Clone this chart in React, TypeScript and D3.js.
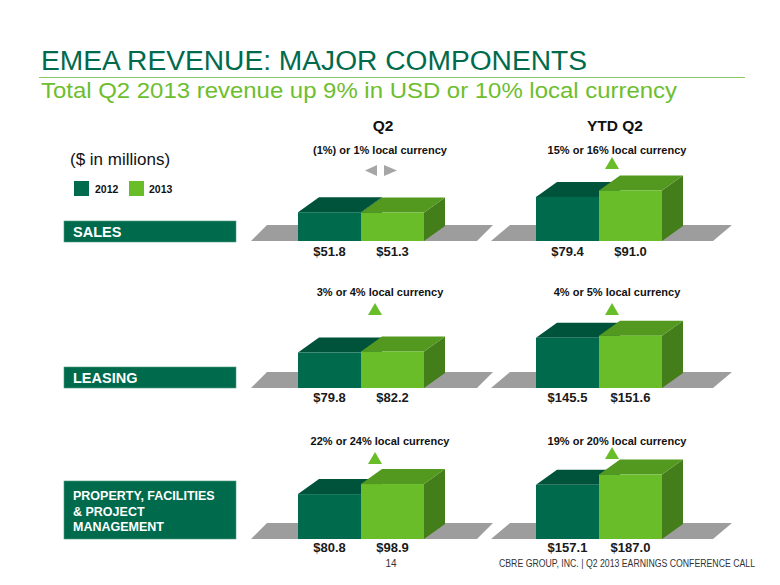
import React from "react";
import * as d3 from "d3";

// ---------- data ----------
const years = ["2012", "2013"];
const segments = ["SALES", "LEASING", "PROPERTY, FACILITIES\n& PROJECT\nMANAGEMENT"];
const q2Values2012 = [51.8, 79.8, 80.8];
const q2Values2013 = [51.3, 82.2, 98.9];
const ytdValues2012 = [79.4, 145.5, 157.1];
const ytdValues2013 = [91.0, 151.6, 187.0];
const q2Notes = ["(1%) or 1% local currency", "3% or 4% local currency", "22% or 24% local currency"];
const ytdNotes = ["15% or 16% local currency", "4% or 5% local currency", "19% or 20% local currency"];
const q2Direction = ["flat", "up", "up"];
const ytdDirection = ["up", "up", "up"];
// per-chart value-axis maxima (each small chart is scaled on its own)
const q2AxisMax = [180, 225, 180];
const ytdAxisMax = [180, 290, 290];

// ---------- layout ----------
const W = 780;
const H = 585;
const FONT = "'Liberation Sans', Arial, Helvetica, sans-serif";
const DARK = "#006A4D";
const DARK_TOP = "#00533B";
const LIGHT = "#69BD29";
const LIGHT_TOP = "#53981F";
const LIGHT_SIDE = "#437E1B";
const GROUND = "#9D9D9D";
const rowBase = [241, 388, 539];
const rowLabelOffset = [15, 13.5, 13];
const rowNoteY = [153.5, 296, 445];
const q2TriTop = [165, 303, 452];
const ytdTriTop = [157, 303, 447];
const boxTop = [221, 367, 481];
const boxH = [21, 21, 58];
const DX = 21;
const DY = 15;
const BAR_RANGE_H = 100;

type PanelCfg = {
  bandStart: number;
  groundLeft: number;
  groundRight: number;
  groundSkew: number;
  noteX: number;
  triX: number;
};
const q2Cfg: PanelCfg = { bandStart: 298, groundLeft: 251, groundRight: 477, groundSkew: 16, noteX: 380, triX: 375 };
const ytdCfg: PanelCfg = { bandStart: 536, groundLeft: 491, groundRight: 713, groundSkew: 19, noteX: 617, triX: 612 };

function Panel({
  cfg, base, labelOffset, v12, v13, max, note, dir, noteY, triTop,
}: {
  cfg: PanelCfg; base: number; labelOffset: number; v12: number; v13: number; max: number;
  note: string; dir: string; noteY: number; triTop: number;
}) {
  const x = d3.scaleBand<string>().domain(years).range([cfg.bandStart, cfg.bandStart + 126]).padding(0);
  const y = d3.scaleLinear().domain([0, max]).range([0, BAR_RANGE_H]);
  const w = x.bandwidth();
  const vals = [v12, v13];
  const gh = 16;
  const ground = [
    [cfg.groundLeft, base],
    [cfg.groundRight, base],
    [cfg.groundRight + cfg.groundSkew, base - gh],
    [cfg.groundLeft + cfg.groundSkew, base - gh],
  ];
  const poly = (pts: number[][]) => pts.map((p) => p.join(",")).join(" ");
  return (
    <g>
      <polygon points={poly(ground)} fill={GROUND} />
      {years.map((yr, i) => {
        const x0 = x(yr) as number;
        const h = y(vals[i]);
        const top = base - h;
        const front = i === 0 ? DARK : LIGHT;
        const topC = i === 0 ? DARK_TOP : LIGHT_TOP;
        const sideC = i === 0 ? "#004A33" : LIGHT_SIDE;
        return (
          <g key={yr}>
            <polygon
              points={poly([[x0 + w, top], [x0 + w + DX, top - DY], [x0 + w + DX, base - DY], [x0 + w, base]])}
              fill={sideC}
            />
            <polygon
              points={poly([[x0, top], [x0 + DX, top - DY], [x0 + w + DX, top - DY], [x0 + w, top]])}
              fill={topC}
            />
            <rect x={x0} y={top} width={w} height={h} fill={front} />
          </g>
        );
      })}
      {years.map((yr, i) => (
        <text
          key={"l" + yr}
          x={(x(yr) as number) + w / 2}
          y={base + labelOffset}
          textAnchor="middle"
          fontFamily={FONT}
          fontWeight="bold"
          fontSize={13}
          fill="#1a1a1a"
        >
          {"$" + d3.format(".1f")(vals[i])}
        </text>
      ))}
      <text x={cfg.noteX} y={noteY} textAnchor="middle" fontFamily={FONT} fontWeight="bold" fontSize={11} fill="#111">
        {note}
      </text>
      {dir === "up" ? (
        <polygon
          points={poly([[cfg.triX - 7, triTop + 12], [cfg.triX + 7, triTop + 12], [cfg.triX, triTop]])}
          fill={LIGHT}
        />
      ) : (
        <g fill="#A6A6A6">
          <polygon points={poly([[cfg.triX - 10, triTop + 5.5], [cfg.triX + 2, triTop], [cfg.triX + 2, triTop + 11]])} />
          <polygon points={poly([[cfg.triX + 9, triTop], [cfg.triX + 22, triTop + 5.5], [cfg.triX + 9, triTop + 11]])} />
        </g>
      )}
    </g>
  );
}

export default function App() {
  return (
    <svg
      width={W}
      height={H}
      viewBox={`0 0 ${W} ${H}`}
      style={{ position: "absolute", left: 0, top: 0, background: "#fff" }}
    >
      <rect width={W} height={H} fill="#fff" />
      <text x={41} y={70} fontFamily={FONT} fontSize={27} fill={DARK} textLength={546} lengthAdjust="spacingAndGlyphs">
        EMEA REVENUE: MAJOR COMPONENTS
      </text>
      <line x1={39} x2={745} y1={77.5} y2={77.5} stroke="#8CC867" strokeWidth={1} />
      <text x={41} y={98} fontFamily={FONT} fontSize={22} fill="#6DBE2E" textLength={636} lengthAdjust="spacingAndGlyphs">
        Total Q2 2013 revenue up 9% in USD or 10% local currency
      </text>

      <text x={383} y={131} textAnchor="middle" fontFamily={FONT} fontWeight="bold" fontSize={15.5} fill="#111">Q2</text>
      <text x={615} y={131} textAnchor="middle" fontFamily={FONT} fontWeight="bold" fontSize={15.5} fill="#111">YTD Q2</text>

      <text x={70} y={165} fontFamily={FONT} fontSize={17} fill="#111">($ in millions)</text>
      {years.map((yr, i) => (
        <g key={yr}>
          <rect x={74 + i * 55} y={181} width={15} height={15} fill={i === 0 ? DARK : LIGHT} />
          <text x={95 + i * 54} y={193} fontFamily={FONT} fontWeight="bold" fontSize={10.5} fill="#111">{yr}</text>
        </g>
      ))}

      {segments.map((s, r) => {
        const lines = s.split("\n");
        const multi = lines.length > 1;
        return (
          <g key={s}>
            <rect x={64} y={boxTop[r]} width={172} height={boxH[r]} fill={DARK} stroke="#4E9A7C" strokeWidth={0.6} />
            {lines.map((ln, k) => (
              <text
                key={k}
                x={73}
                y={multi ? boxTop[r] + 19 + k * 15.5 : boxTop[r] + 16}
                fontFamily={FONT}
                fontWeight="bold"
                fontSize={multi ? 12.5 : 14.5}
                fill="#fff"
              >
                {ln}
              </text>
            ))}
          </g>
        );
      })}

      {segments.map((s, r) => (
        <g key={"p" + r}>
          <Panel cfg={q2Cfg} base={rowBase[r]} labelOffset={rowLabelOffset[r]} v12={q2Values2012[r]} v13={q2Values2013[r]}
            max={q2AxisMax[r]} note={q2Notes[r]} dir={q2Direction[r]} noteY={rowNoteY[r]} triTop={q2TriTop[r]} />
          <Panel cfg={ytdCfg} base={rowBase[r]} labelOffset={rowLabelOffset[r]} v12={ytdValues2012[r]} v13={ytdValues2013[r]}
            max={ytdAxisMax[r]} note={ytdNotes[r]} dir={ytdDirection[r]} noteY={rowNoteY[r]} triTop={ytdTriTop[r]} />
        </g>
      ))}

      <text x={391} y={567} textAnchor="middle" fontFamily={FONT} fontSize={10} fill="#333">14</text>
      <text x={499} y={567} fontFamily={FONT} fontSize={10} fill="#333" textLength={256} lengthAdjust="spacingAndGlyphs">
        CBRE GROUP, INC. | Q2 2013 EARNINGS CONFERENCE CALL
      </text>
    </svg>
  );
}
